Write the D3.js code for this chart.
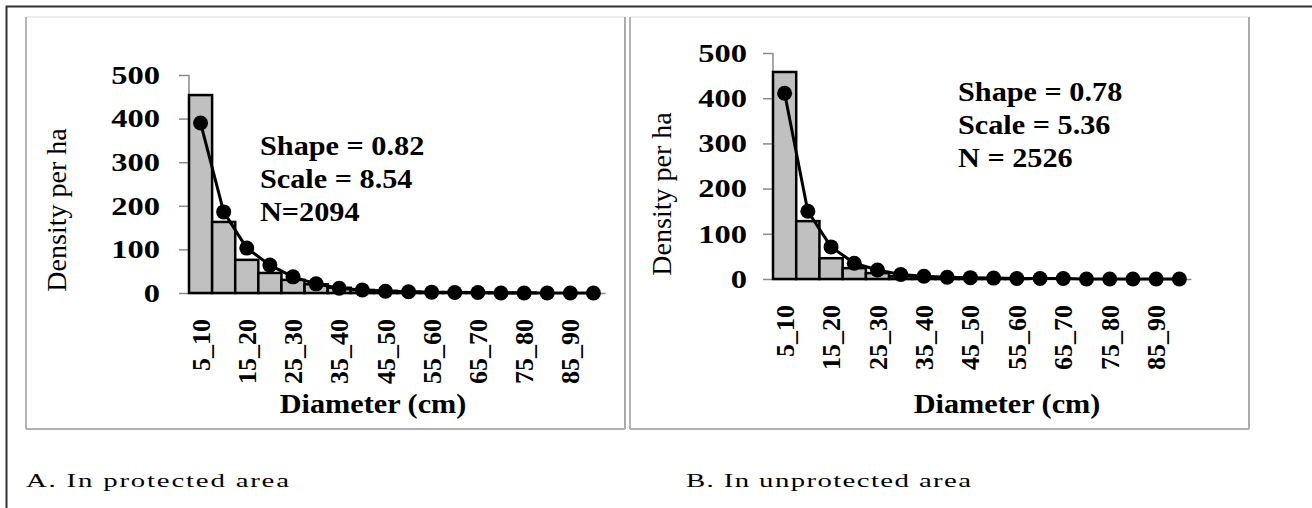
<!DOCTYPE html>
<html>
<head>
<meta charset="utf-8">
<script src="https://cdn.jsdelivr.net/npm/d3@7"></script>
<style>
  html, body { margin: 0; padding: 0; background: #fff; }
  svg { display: block; }
  text { font-family: "Liberation Serif", "Times New Roman", serif; fill: #000; }
</style>
</head>
<body>
<svg id="chart" width="1312" height="508"></svg>
<script>
// ---------- data ----------
const categories = ["5_10","10_15","15_20","20_25","25_30","30_35","35_40","40_45","45_50",
                    "50_55","55_60","60_65","65_70","70_75","75_80","80_85","85_90","90_95"];
const tickLabels = ["5_10","15_20","25_30","35_40","45_50","55_60","65_70","75_80","85_90"];
const yTicks = [0, 100, 200, 300, 400, 500];

const protectedObserved   = [454, 163, 76, 46, 30, 20, 12, 7, 5, 3, 2, 2, 1, 1, 1, 0, 0, 0];
const protectedFitted     = [390, 186, 103, 64, 37, 21, 11, 7, 4, 3, 2, 1, 1, 0, 0, 0, 0, 0];
const unprotectedObserved = [458, 128, 46, 24, 13, 6, 3, 2, 1, 1, 1, 0, 0, 0, 0, 0, 0, 0];
const unprotectedFitted   = [411, 150, 71, 35, 20, 10, 6, 4, 3, 2, 1, 1, 1, 0, 0, 0, 0, 0];

const protectedStats   = ["Shape = 0.82", "Scale = 8.54", "N=2094"];
const unprotectedStats = ["Shape = 0.78", "Scale = 5.36", "N = 2526"];
const captions = ["A.  In protected area", "B. In unprotected area"];

// ---------- drawing ----------
const svg = d3.select("#chart");
const WIDEN = 1.12;

function stretch(sel, k) {
  sel.each(function () {
    const w = this.getComputedTextLength();
    d3.select(this).attr("textLength", w * k).attr("lengthAdjust", "spacingAndGlyphs");
  });
}

// outer frame (extends beyond right/bottom edges)
svg.append("rect")
  .attr("x", 6.5).attr("y", 6.5).attr("width", 1330).attr("height", 530)
  .attr("fill", "none").attr("stroke", "#333").attr("stroke-width", 2);

function panelFrame(x0, x1, y0, y1) {
  svg.append("rect").attr("x", x0).attr("y", y0).attr("width", x1 - x0).attr("height", y1 - y0)
    .attr("fill", "#fff").attr("stroke", "#dcdcdc").attr("stroke-width", 1);
  svg.append("line").attr("x1", x0).attr("x2", x0).attr("y1", y0).attr("y2", y1)
    .attr("stroke", "#b4b4b4").attr("stroke-width", 2);
  svg.append("line").attr("x1", x1).attr("x2", x1).attr("y1", y0).attr("y2", y1)
    .attr("stroke", "#ababab").attr("stroke-width", 2);
  svg.append("line").attr("x1", x0).attr("x2", x1).attr("y1", y1).attr("y2", y1)
    .attr("stroke", "#b0b0b0").attr("stroke-width", 2);
}

panelFrame(26, 625, 17, 429);
panelFrame(630, 1249, 17, 429);

function drawChart(cfg) {
  const x = d3.scaleBand().domain(categories).range([cfg.xl, cfg.xr]).padding(0);
  const y = d3.scaleLinear().domain([0, 500]).range([cfg.y0, cfg.y500]);
  const g = svg.append("g");

  // y axis
  const yAxis = d3.axisLeft(y).tickValues(yTicks).tickSize(10).tickPadding(cfg.tickPad).tickFormat(d3.format("d"));
  const ya = g.append("g").attr("transform", `translate(${cfg.xl},0)`).call(yAxis);
  ya.select(".domain").attr("stroke", "#8a8a8a").attr("stroke-width", 1.5).attr("d", `M-0,${cfg.y500}V${cfg.y0}`);
  ya.selectAll(".tick line").attr("stroke", "#8a8a8a").attr("stroke-width", 1.5);
  const yt = ya.selectAll(".tick text").attr("font-family", "Liberation Serif, serif")
    .attr("font-weight", "bold").attr("font-size", 26).attr("fill", "#000");
  stretch(yt, 1.25);

  // x axis baseline
  const xAxis = d3.axisBottom(x).tickValues(tickLabels).tickSize(0).tickPadding(0);
  const xa = g.append("g").attr("transform", `translate(0,${cfg.y0})`).call(xAxis);
  xa.select(".domain").attr("stroke", "#8a8a8a").attr("stroke-width", 1.5);
  xa.selectAll(".tick text")
    .attr("font-family", "Liberation Serif, serif").attr("font-weight", "bold").attr("font-size", 26)
    .attr("text-anchor", "end").attr("transform", "translate(0,26) rotate(-90)")
    .attr("x", 0).attr("y", 0).attr("dy", "0.35em");

  // bars
  g.append("g").selectAll("rect").data(cfg.observed.map((v, i) => ({c: categories[i], v})).filter(d => d.v > 0))
    .join("rect")
    .attr("x", d => x(d.c)).attr("width", x.bandwidth())
    .attr("y", d => y(d.v)).attr("height", d => y(0) - y(d.v))
    .attr("fill", "#c0c0c0").attr("stroke", "#000").attr("stroke-width", 2.5);

  // fitted line
  const pts = cfg.fitted.map((v, i) => ({c: categories[i], v}));
  const line = d3.line().x(d => x(d.c) + x.bandwidth() / 2).y(d => y(d.v));
  g.append("path").datum(pts).attr("d", line)
    .attr("fill", "none").attr("stroke", "#000").attr("stroke-width", 3);
  g.append("g").selectAll("circle").data(pts).join("circle")
    .attr("cx", d => x(d.c) + x.bandwidth() / 2).attr("cy", d => y(d.v)).attr("r", 7.5)
    .attr("fill", "#000");

  // annotation
  cfg.stats.forEach((s, i) => {
    const t = g.append("text").attr("font-weight", "bold").attr("font-size", 27)
      .attr("x", cfg.annX).attr("y", cfg.annY + i * cfg.annDy).text(s);
    stretch(t, WIDEN);
  });

  // axis titles
  g.append("text").attr("transform", `translate(${cfg.ytX},${cfg.ytY}) rotate(-90)`)
    .attr("text-anchor", "middle").attr("font-size", 28).text("Density per ha");
  const xt = g.append("text").attr("x", cfg.xtX).attr("y", 413).attr("text-anchor", "middle")
    .attr("font-weight", "bold").attr("font-size", 27).text("Diameter (cm)");
  stretch(xt, WIDEN);
}

drawChart({xl: 189, xr: 605, y0: 293, y500: 75, tickPad: 19, observed: protectedObserved, fitted: protectedFitted,
  stats: protectedStats, annX: 260, annY: 155, annDy: 33, ytX: 66, ytY: 210, xtX: 373});
drawChart({xl: 773, xr: 1191, y0: 279, y500: 53, tickPad: 16, observed: unprotectedObserved, fitted: unprotectedFitted,
  stats: unprotectedStats, annX: 958, annY: 101, annDy: 33, ytX: 671, ytY: 194, xtX: 1007});

// captions (wide typeface in the original)
const CAP_SCALE = 1.6;
[[captions[0], 26, 263], [captions[1], 686, 285]].forEach(([txt, cx, w]) => {
  svg.append("text").attr("transform", `translate(${cx},487) scale(${CAP_SCALE},1)`)
    .attr("x", 0).attr("y", 0).attr("font-size", 18)
    .attr("textLength", w / CAP_SCALE).attr("lengthAdjust", "spacing").text(txt);
});
</script>
</body>
</html>
